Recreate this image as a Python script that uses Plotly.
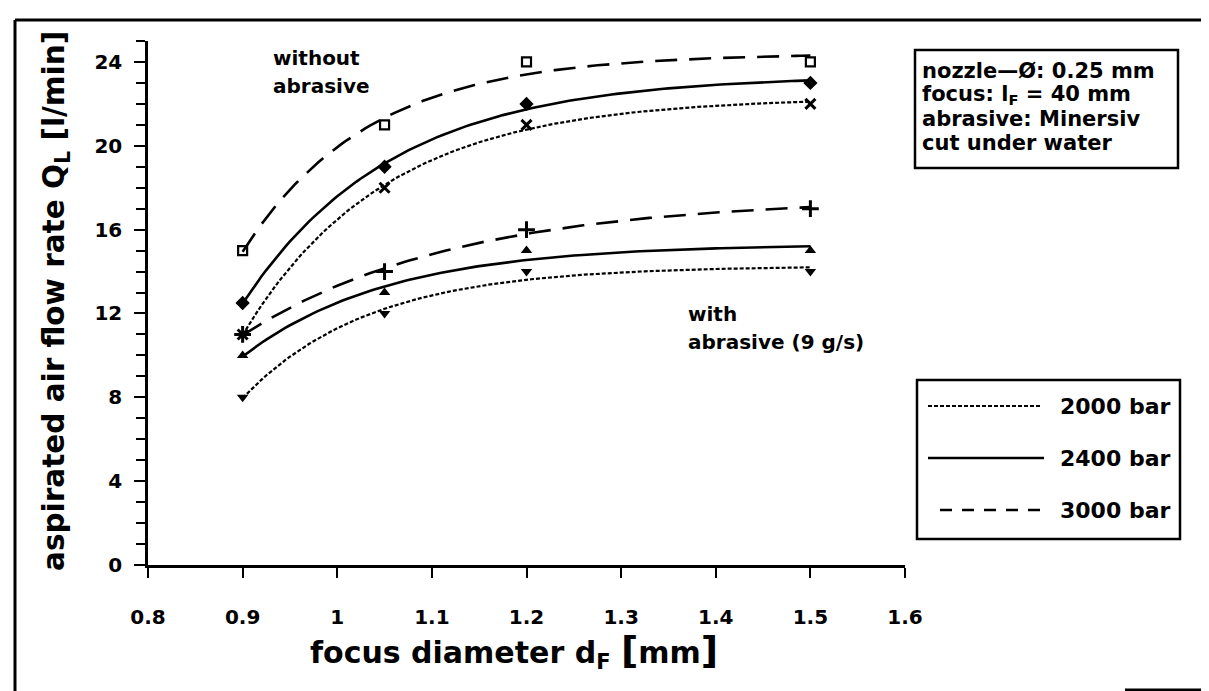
import numpy as np
import plotly.graph_objects as go

# ---------------- data ----------------
focus_d = [0.9, 1.05, 1.2, 1.5]          # focus diameter d_F [mm]
no_abr_2000 = [11, 18, 21, 22]           # without abrasive, 2000 bar
no_abr_2400 = [12.5, 19, 22, 23]         # without abrasive, 2400 bar
no_abr_3000 = [15, 21, 24, 24]           # without abrasive, 3000 bar
abr_2000 = [8, 12, 14, 14]               # with abrasive, 2000 bar
abr_2400 = [10, 13, 15, 15]              # with abrasive, 2400 bar
abr_3000 = [11, 14, 16, 17]              # with abrasive, 3000 bar
pressure_labels = ["2000 bar", "2400 bar", "3000 bar"]
x_ticks = [0.8, 0.9, 1.0, 1.1, 1.2, 1.3, 1.4, 1.5, 1.6]
y_ticks = [0, 4, 8, 12, 16, 20, 24]
info_lines = ["nozzle\u2014\u00d8: 0.25 mm",
              "focus: l<sub>F</sub> = 40 mm",
              "abrasive: Minersiv",
              "cut under water"]

# ---------------- layout geometry ----------------
W, H = 1209, 691
L, R, T, B = 140, 312, 33, 134
PW, PH = W - L - R, H - T - B
FONT = "DejaVu Sans"


def fx(px):
    return (px - L) / PW


def fy(py):
    return (H - B - py) / PH


def trend(x, y):
    """least-squares saturation trend y = a - b*exp(-k(x-x0)) fitted to the data"""
    x = np.asarray(x, float)
    y = np.asarray(y, float)
    best = None
    for k in np.linspace(1.0, 20.0, 381):
        A = np.column_stack([np.ones_like(x), -np.exp(-k * (x - x[0]))])
        coef, *_ = np.linalg.lstsq(A, y, rcond=None)
        res = np.sum((A @ coef - y) ** 2)
        if best is None or res < best[0]:
            best = (res, k, coef)
    _, k, (a, b) = best
    xs = np.linspace(x[0], x[-1], 121)
    return xs, a - b * np.exp(-k * (xs - x[0]))


line_style = {
    "2000 bar": dict(color="black", width=2.2, dash="4px,2px"),
    "2400 bar": dict(color="black", width=2.6, dash="solid"),
    "3000 bar": dict(color="black", width=2.6, dash="22px,12px"),
}

series = [
    (no_abr_2000, "2000 bar", dict(symbol="x-thin", size=10, line=dict(width=3, color="black"))),
    (no_abr_2400, "2400 bar", dict(symbol="diamond", size=11, color="black")),
    (no_abr_3000, "3000 bar", dict(symbol="square-open", size=9, color="black", line=dict(width=2.2, color="black"))),
    (abr_2000, "2000 bar", dict(symbol="triangle-down", size=10, color="black")),
    (abr_2400, "2400 bar", dict(symbol="triangle-up", size=10, color="black")),
    (abr_3000, "3000 bar", dict(symbol="cross-thin", size=12, line=dict(width=3, color="black"))),
]

fig = go.Figure()
for ys, p, mk in series:
    xs, yfit = trend(focus_d, ys)
    fig.add_trace(go.Scatter(x=xs, y=yfit, mode="lines", line=line_style[p],
                             showlegend=False, hoverinfo="skip"))
    fig.add_trace(go.Scatter(x=focus_d, y=ys, mode="markers", marker=mk,
                             name=p, showlegend=False))

annotations = []


def add_text(text, px, py, size, xanchor="left", angle=0):
    annotations.append(dict(text=text, x=fx(px), y=fy(py), xref="paper", yref="paper",
                            xanchor=xanchor, yanchor="middle", showarrow=False,
                            textangle=angle,
                            font=dict(family=FONT, size=size, color="black", weight="bold")))


add_text("without", 263, 50, 20)
add_text("abrasive", 263, 78, 20)
add_text("with", 678, 306, 20)
add_text("abrasive (9 g/s)", 678, 334, 20)
for i, t in enumerate(info_lines):
    add_text(t, 912, 63 + 24 * i, 21)
for i, p in enumerate(pressure_labels):
    add_text(p, 1050, 398 + 52 * i, 22)

# axis titles
add_text("aspirated air flow rate Q<sub>L</sub> [l/min]", 48, 293, 29.5, xanchor="center", angle=-90)
add_text("focus diameter d<sub>F</sub> <span style='font-size:38px'>[</span>mm"
         "<span style='font-size:38px'>]</span>", 506, 643, 30, xanchor="center")

shapes = []


def add_line(x0, y0, x1, y1, width=2.5, dash="solid"):
    shapes.append(dict(type="line", xref="paper", yref="paper",
                       x0=fx(x0), y0=fy(y0), x1=fx(x1), y1=fy(y1),
                       line=dict(color="black", width=width, dash=dash)))


def add_rect(x0, y0, x1, y1, width=2.5):
    shapes.append(dict(type="rect", xref="paper", yref="paper",
                       x0=fx(x0), y0=fy(y0), x1=fx(x1), y1=fy(y1),
                       line=dict(color="black", width=width), fillcolor="rgba(0,0,0,0)"))


# info box and legend box
add_rect(907, 42, 1170, 160)
add_rect(909, 372, 1172, 531)
# legend samples
add_line(920, 398, 1034, 398, width=2.2, dash="4px,2px")
add_line(920, 450, 1036, 450, width=2.6)
add_line(932, 502, 1036, 502, width=2.4, dash="12px,10px")
# outer frame
add_line(7, 12, 7, 691, width=3)
add_line(7, 12, 1204, 12, width=3)
add_line(1204, 10, 1204, 682, width=3)
add_line(1117, 682, 1204, 682, width=3)

fig.update_layout(
    width=W, height=H,
    margin=dict(l=L, r=R, t=T, b=B, autoexpand=False),
    paper_bgcolor="white", plot_bgcolor="white",
    font=dict(family=FONT, size=20, color="black", weight="bold"),
    annotations=annotations, shapes=shapes,
    showlegend=False,
)
fig.update_xaxes(range=[0.8, 1.6], tickvals=x_ticks, ticks="outside", ticklen=10, tickwidth=2,
                 tickcolor="black", showline=True, linewidth=2.5, linecolor="black",
                 showgrid=False, zeroline=False, tickfont=dict(size=20),
                 ticklabelstandoff=22)
fig.update_yaxes(range=[0, 25], tickvals=y_ticks, ticks="outside", ticklen=11, tickwidth=2,
                 tickcolor="black", showline=True, linewidth=2.5, linecolor="black",
                 showgrid=False, zeroline=False, tickfont=dict(size=20),
                 ticklabelstandoff=8,
                 minor=dict(tickvals=list(range(0, 26)), ticks="outside", ticklen=9,
                            tickwidth=2, tickcolor="black"))

fig.write_html("out.html")
